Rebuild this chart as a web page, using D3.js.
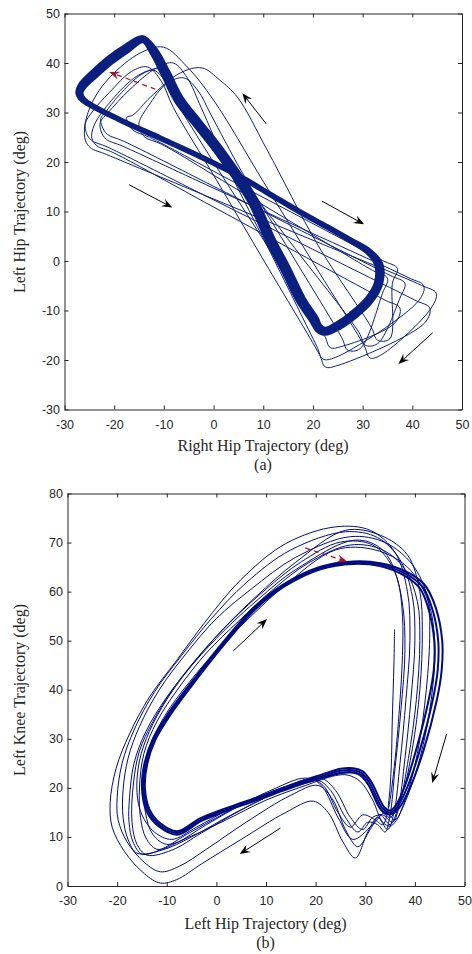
<!DOCTYPE html>
<html>
<head>
<meta charset="utf-8">
<script src="https://cdn.jsdelivr.net/npm/d3@7"></script>
<style>
  body { margin: 0; background: #fff; }
  svg { display: block; }
  .axis text { font-family: "Liberation Sans", Arial, sans-serif; font-size: 12.5px; fill: #262626; }
  .axis path, .axis line { stroke: #262626; stroke-width: 1; }
  .lbl { font-family: "Liberation Serif", "Times New Roman", serif; font-size: 16px; fill: #262626; }
</style>
</head>
<body>
<script>
// ---------- shared tick values ----------
const hipTicks = [-30, -20, -10, 0, 10, 20, 30, 40, 50];
const kneeTicks = [0, 10, 20, 30, 40, 50, 60, 70, 80];

// ---------- (a) right hip vs left hip, degrees ----------
// converged gait cycle, drawn as a bundle of three neighbouring cycles
const hipLimitA = [[-27.0,34.0],[-26.3,32.6],[-19,28.6],[-10.7,24.8],[-2.5,21.0],[5.4,17.0],[11,13.7],[17.4,9.9],[23,6.8],[27.5,4.2],[31.2,1.9],[33.2,-0.6],[33.2,-4.5],[31.2,-8.0],[28,-11],[25.2,-13],[22.5,-14.2],[21.2,-13.6],[20.2,-11.8],[17.6,-7.9],[14.5,-1.6],[11.4,4.3],[7.8,12.3],[1.0,22.4],[-3.0,27.5],[-6.9,32.5],[-9.6,37.8],[-12.0,42.3],[-14.2,44.8],[-17.4,43.0],[-20.8,40.6],[-24.2,37.6],[-26.4,35.4]];
const hipLimitB = [[-26.58,34.0],[-26.02,32.71],[-18.92,28.75],[-10.62,24.95],[-2.42,21.15],[5.48,17.15],[11.08,13.85],[17.48,10.05],[23.08,6.95],[27.6,4.38],[31.48,2.11],[33.76,-0.6],[33.72,-4.68],[31.6,-8.4],[28.4,-11.4],[25.48,-13.46],[22.5,-14.72],[20.85,-14.02],[19.64,-12.08],[17.0,-8.18],[13.87,-1.88],[10.77,4.02],[7.17,12.02],[0.4,22.09],[-3.56,27.15],[-7.46,32.15],[-10.16,37.49],[-12.39,41.88],[-14.2,44.38],[-17.02,42.55],[-20.38,40.15],[-23.75,37.22],[-25.95,35.16]];
const hipLimitC = [[-27.42,34.0],[-26.58,32.5],[-19.08,28.45],[-10.78,24.65],[-2.58,20.85],[5.32,16.85],[10.92,13.55],[17.32,9.75],[22.92,6.65],[27.4,4.02],[30.92,1.69],[32.64,-0.6],[32.68,-4.32],[30.8,-7.6],[27.6,-10.6],[24.92,-12.54],[22.5,-13.68],[21.55,-13.18],[20.76,-11.52],[18.2,-7.62],[15.13,-1.32],[12.03,4.58],[8.43,12.58],[1.6,22.72],[-2.44,27.85],[-6.34,32.85],[-9.04,38.12],[-11.62,42.72],[-14.2,45.22],[-17.79,43.46],[-21.22,41.06],[-24.66,37.99],[-26.86,35.65]];

// early cycles before the gait settles
const hipCycle1 = [[-25.8,24.4],[-24.8,22.9],[-21.5,21.5],[-0.4,12.7],[20.7,3.9],[41.8,-4.9],[44.8,-6.5],[43.8,-9.5],[34,-18.8],[31.5,-19.6],[30.3,-17.1],[20.2,-0.6],[10.1,15.9],[0,32.5],[-5.3,39.2],[-10.1,43.2],[-14.8,42],[-20.8,37.2],[-24.2,32.5],[-25.9,27.5]];
const hipCycle2 = [[-25.6,25.9],[-24.6,24.4],[-21.3,23.0],[-0.7,12.7],[19.9,2.4],[40.5,-7.9],[43.5,-9.5],[42.5,-12.5],[25,-21.1],[22.5,-21.4],[21.3,-18.9],[10.4,-0.4],[0.5,16.5],[-8.1,31],[-10.5,36.3],[-13.3,39.2],[-16.5,38.3],[-21,34],[-24.3,30.3],[-25.8,27.8]];
const hipCycle3 = [[-22.6,26.1],[-21.6,24.6],[-18.3,23.2],[0.9,14.3],[20.1,5.5],[39.3,-3.4],[42.3,-5.0],[41.3,-8.0],[24.5,-19.5],[22.0,-19.8],[20.8,-17.3],[11.8,1.0],[2.7,19.2],[-2.5,31],[-5.3,37],[-8.1,40.0],[-11.5,39],[-17,34.5],[-21.2,30],[-22.8,28]];
const hipCycle4 = [[-22.4,27.1],[-21.4,25.6],[-18.1,24.2],[-0.2,15.2],[17.7,6.1],[35.5,-2.9],[38.5,-4.5],[37.5,-7.5],[33,-16.7],[30.5,-17.0],[29.3,-14.5],[16.5,2.4],[3.6,19.4],[-5,31],[-8.2,36],[-11.0,38.8],[-14.5,37.7],[-19,33.5],[-21.8,30],[-22.7,28.8]];
const hipCycle5 = [[-17.2,27.9],[-16.2,26.4],[-12.9,25.0],[2.7,16.7],[18.4,8.4],[34.0,0.1],[37.0,-1.5],[36.0,-4.5],[35.5,-15.7],[33.0,-16.0],[31.8,-13.5],[21.0,3.2],[10.8,22.4],[4.8,33.1],[1.3,36.5],[-2.3,39.0],[-6.7,38],[-12.7,33.1],[-16.2,29.5],[-17.5,29.0]];
const hipCycle6 = [[-14.8,26.5],[-13.8,25.0],[-10.5,23.6],[3.7,15.1],[17.8,6.6],[32.0,-1.9],[35.0,-3.5],[34.0,-6.5],[29.5,-17.7],[27.0,-18.0],[25.8,-15.5],[15.8,1.2],[5.8,17.8],[-0.5,29.5],[-3.2,34.5],[-6.0,37.0],[-9.5,35.8],[-13,31.5],[-15,28]];
const hipCycle7 = [[-24.5,24.8],[-23.5,23.3],[-20.2,21.9],[-2.0,12.0],[16.3,2.0],[34.5,-7.9],[37.5,-9.5],[36.5,-12.5],[26,-17.2],[23.5,-17.5],[22.3,-15.0],[11.5,2.0],[0.6,19.0],[-6.8,31],[-9.5,36],[-12.0,38.5],[-15.5,37.3],[-20.5,32.5],[-24,27.5]];

// direction markers [x0, y0, x1, y1] in degrees
const hipArrows = [[-17,15.4,-8.3,10.8],[21.8,12.1,30.3,7.4],[10.6,27.7,5.8,33.9],[44.1,-14.5,37.2,-20.8]];
const hipDashedArrow = [-11.7,34.7,-21,38.2];

// ---------- (b) left hip vs left knee, degrees ----------
const kneeLimitA = [[-7.9,10.8],[-11.5,12.5],[-13.8,15.5],[-14.7,20],[-14.2,25],[-12.5,30],[-9.5,35],[-4,42.5],[1.5,49.5],[7.4,56.3],[13.5,61.2],[20.9,64.8],[27.6,65.9],[33,65.5],[38,63.7],[41.5,61.0],[43.5,56.5],[44.7,50],[44.6,44],[43.6,37.9],[41.0,27.7],[38.5,20.2],[36.5,16.2],[35.0,15.0],[33.5,15.8],[31,20.8],[29.3,23.0],[27.6,23.6],[25,23.5],[21,22.3],[16.9,21],[10,18.4],[3.4,16.1],[-3.2,13.5]];
const kneeLimitB = [[-7.9,10.45],[-11.71,12.22],[-14.1,15.33],[-15.0,20],[-14.48,25.05],[-12.75,30.12],[-9.72,35.15],[-4.2,42.65],[1.32,49.66],[7.24,56.48],[13.38,61.4],[20.83,65.03],[27.6,66.15],[33.05,65.8],[38.2,64.1],[41.95,61.4],[44.2,56.75],[45.5,50.05],[45.4,44],[44.4,37.8],[41.7,27.5],[39.0,20.0],[36.8,15.9],[35.0,14.6],[33.2,15.5],[30.65,20.6],[29.1,22.65],[27.6,23.2],[25,23.1],[21.1,22.0],[16.98,20.75],[10.08,18.16],[3.48,15.86],[-3.1,13.22]];
const kneeLimitC = [[-7.9,11.15],[-11.29,12.78],[-13.5,15.67],[-14.4,20],[-13.92,24.95],[-12.25,29.88],[-9.28,34.85],[-3.8,42.35],[1.68,49.34],[7.56,56.12],[13.62,61.0],[20.97,64.57],[27.6,65.65],[32.95,65.2],[37.8,63.3],[41.05,60.6],[42.8,56.25],[43.9,49.95],[43.8,44],[42.8,38.0],[40.3,27.9],[38.0,20.4],[36.2,16.5],[35.0,15.4],[33.8,16.1],[31.35,21.0],[29.5,23.35],[27.6,24.0],[25,23.9],[20.9,22.6],[16.82,21.25],[9.92,18.64],[3.32,16.34],[-3.3,13.78]];

const kneeCycle1 = [[-11.3,0.6],[-14.5,2.5],[-18.5,7],[-21,12],[-21.4,17],[-20.2,24],[-17.5,31],[-13.5,38.5],[-8,46],[-2.5,53.5],[5,62.5],[14,69.8],[24,73.2],[31,72.5],[36,68],[38.5,60],[39,50],[38.2,38],[37,25],[35.8,15],[34.5,11.5],[32.5,14],[30.5,11],[28,5.7],[25.5,9],[22.5,15],[19.5,17.3],[14,15],[5,9.5],[-3,4.5],[-8,1.3]];
const kneeCycle2 = [[-11.3,2.9],[-14.5,4.8],[-18,9],[-19.8,13.5],[-20,18],[-19,25],[-16.5,32],[-12.5,39.5],[-7,47],[-1,54.5],[6,61.8],[15,68.5],[26,72.2],[32.5,71],[37,66.5],[39.5,59],[40,50],[39.2,38],[38,26],[36.6,16],[35,12.5],[33,14.5],[31,11.5],[28.5,8],[26,11.5],[23.5,17.5],[20.5,20.5],[15,18.5],[6,13],[-2,7.5],[-7.5,4]];
const kneeCycle3 = [[-16,6.7],[-17.8,9.5],[-18.8,14],[-18.8,19.6],[-17.8,26],[-15.5,32.5],[-11.5,40],[-6,47.5],[0,54.5],[7,60.5],[16,67],[27,71.2],[34,70],[39.5,65.5],[42.5,59],[43,52],[42.3,40],[40.5,27],[38,17.5],[36,13.5],[34,15],[31.5,12.5],[27.5,9.5],[24.5,14],[21.5,20],[19,21.8],[12,19],[3,14.5],[-5,10],[-11,7.3]];
const kneeCycle4 = [[-14,6.3],[-16,8.5],[-17,13],[-16.7,21],[-15.5,27.5],[-12.8,33.5],[-8.5,40.5],[-3,47.5],[3,54],[10,60.5],[17,66],[25,70.1],[31.5,69.5],[35.5,65],[37.5,57.5],[38,48],[37.2,36],[36,24],[35,14.5],[34,11],[32.5,12.5],[30.5,13],[28.5,11],[26,14],[23,19.5],[20.5,21.5],[14,19.8],[5,15.5],[-3,10.8],[-9,7.3]];
const kneeCycle5 = [[-12,7.5],[-14.2,9.8],[-15.3,14],[-15.5,20],[-14.6,27],[-12,33.5],[-7.5,40.5],[-2,47.5],[4.5,54],[11.5,60.5],[18.5,65.8],[27,69.5],[33.5,68.5],[38,64.5],[40.5,58],[41,50],[40.3,38],[38.7,26],[37,17],[35.5,13],[33.5,14.5],[31.5,14],[29.5,11.5],[27,14],[24,19.5],[21,22],[14,20.3],[6,17],[-2,12.5],[-8,8.8]];
const kneeCycle6 = [[-10,8.5],[-12.8,10.5],[-14.3,15],[-14.5,21],[-13.5,28],[-10.5,34.5],[-5.5,41.5],[0.5,48.5],[7,55],[13.5,61],[24,68.5],[32,68.5],[38.5,65],[42.5,58.5],[44,50],[43.3,38],[41,26],[38,17],[36,13],[35,12.2],[33.5,13],[31.5,17.5],[29,21.3],[26.5,22.6],[24,22.5],[18,20.5],[10,17.5],[2,13.5],[-5,10.2]];
const kneeCycle7 = [[-9,9.5],[-12.5,11],[-15,14.5],[-16,19],[-15.5,25.5],[-13.5,31.5],[-10,38],[-5,45],[1,52],[8,59],[16,66],[26,72.5],[33,71.5],[38.5,67.5],[41,60],[41.5,52],[41,40],[39.5,28],[37.5,19],[35,14],[33.2,15.5],[31,20],[28.5,22.7],[26,23],[20,21.5],[12,19],[3,15.8],[-4,12]];
const kneeCycle8 = [[-15,6.5],[-16.8,9],[-17.6,13],[-17.5,18],[-16.6,25],[-14.2,31.5],[-10,38.5],[-4.5,45.5],[1.5,52],[8.5,58.5],[16,64.5],[28,70.5],[33.5,68.5],[36.5,62.5],[37.5,55],[37.5,47],[36.8,35],[35.7,23],[34.5,15],[33.5,12.5],[32,13.5],[29.5,14.5],[27,12],[24.5,15],[21.5,20.5],[18,22],[11,19.5],[2,15],[-6,10.5],[-11.5,7.3]];
// first stretch of the recording, before the first full cycle
const kneeStart = [[35.9,52.3],[35.8,46],[35.6,39],[35.4,32],[35.3,26],[35.0,20],[34.6,16]];

const kneeArrows = [[3.4,47.9,10.2,54.4],[46.4,31,43.5,21],[12.9,11.8,4.7,6.5]];
const kneeDashedArrow = [17.9,68.9,26.4,66.1];

// ---------- drawing ----------
const svg = d3.select("body").append("svg").attr("width", 472).attr("height", 954);
const fmt = d => String(d);

function arrow(g, x, y, a, color, dashed) {
  const x0 = x(a[0]), y0 = y(a[1]), x1 = x(a[2]), y1 = y(a[3]);
  const ang = Math.atan2(y1 - y0, x1 - x0);
  const L = 10.5, hw = 4.2, notch = 0.35 * L;
  const c = Math.cos(ang), s = Math.sin(ang);
  const bx = x1 - c * (L - notch), by = y1 - s * (L - notch);
  g.append("line")
    .attr("x1", x0).attr("y1", y0).attr("x2", bx).attr("y2", by)
    .attr("stroke", color).attr("stroke-width", dashed ? 1.3 : 1)
    .attr("stroke-dasharray", dashed ? "5,4" : null);
  const p = [
    [x1, y1],
    [x1 - c * L - s * hw, y1 - s * L + c * hw],
    [bx, by],
    [x1 - c * L + s * hw, y1 - s * L - c * hw]
  ];
  g.append("path").attr("d", "M" + p.map(q => q.join(",")).join("L") + "Z")
    .attr("fill", color).attr("stroke", "none");
}

function panel(o) {
  const x = d3.scaleLinear().domain(o.xDomain).range([o.left, o.right]);
  const y = d3.scaleLinear().domain(o.yDomain).range([o.bottom, o.top]);
  const g = svg.append("g");

  // box with inward ticks on all four sides
  g.append("g").attr("class", "axis").attr("transform", `translate(0,${o.bottom})`)
    .call(d3.axisBottom(x).tickValues(o.xTicks).tickSizeInner(-4).tickSizeOuter(0).tickPadding(10.5).tickFormat(fmt));
  g.append("g").attr("class", "axis").attr("transform", `translate(0,${o.top})`)
    .call(d3.axisTop(x).tickValues(o.xTicks).tickSizeInner(-4).tickSizeOuter(0).tickFormat(""));
  g.append("g").attr("class", "axis").attr("transform", `translate(${o.left},0)`)
    .call(d3.axisLeft(y).tickValues(o.yTicks).tickSizeInner(-4).tickSizeOuter(0).tickPadding(4.5).tickFormat(fmt));
  g.append("g").attr("class", "axis").attr("transform", `translate(${o.right},0)`)
    .call(d3.axisRight(y).tickValues(o.yTicks).tickSizeInner(-4).tickSizeOuter(0).tickFormat(""));
  g.selectAll(".axis .domain").attr("stroke", "#262626");

  const loop = d3.line().x(d => x(d[0])).y(d => y(d[1])).curve(d3.curveCatmullRomClosed.alpha(0.5));
  const open = d3.line().x(d => x(d[0])).y(d => y(d[1])).curve(d3.curveCatmullRom.alpha(0.5));

  g.selectAll(".cyc").data(o.cycles).join("path")
    .attr("d", loop).attr("fill", "none").attr("stroke", o.color).attr("stroke-width", 1);
  (o.openPaths || []).forEach(p => g.append("path").attr("d", open(p))
    .attr("fill", "none").attr("stroke", o.color).attr("stroke-width", 1));
  g.selectAll(".lim").data(o.limit).join("path")
    .attr("d", loop).attr("fill", "none").attr("stroke", o.color)
    .attr("stroke-width", o.limitWidth).attr("stroke-linejoin", "round");

  o.arrows.forEach(a => arrow(g, x, y, a, "#000", false));
  arrow(g, x, y, o.dashed, "#A2142F", true);

  g.append("text").attr("class", "lbl").attr("x", o.xLabelPos[0]).attr("y", o.xLabelPos[1])
    .attr("text-anchor", "middle").text(o.xLabel);
  g.append("text").attr("class", "lbl").attr("x", o.xLabelPos[0]).attr("y", o.xLabelPos[1] + 19)
    .attr("text-anchor", "middle").text(o.tag);
  g.append("text").attr("class", "lbl")
    .attr("transform", `translate(${o.yLabelPos[0]},${o.yLabelPos[1]}) rotate(-90)`)
    .attr("text-anchor", "middle").text(o.yLabel);
}

panel({
  left: 64.5, right: 462, top: 13.5, bottom: 409.5,
  xDomain: [-30, 50], yDomain: [-30, 50], xTicks: hipTicks, yTicks: hipTicks,
  color: "#0b1f7e",
  cycles: [hipCycle1, hipCycle2, hipCycle3, hipCycle4, hipCycle5, hipCycle6, hipCycle7],
  limit: [hipLimitB, hipLimitC, hipLimitA], limitWidth: 4,
  arrows: hipArrows, dashed: hipDashedArrow,
  xLabel: "Right Hip Trajectory (deg)", tag: "(a)", xLabelPos: [263, 451],
  yLabel: "Left Hip Trajectory (deg)", yLabelPos: [25, 212]
});

panel({
  left: 67.5, right: 464.5, top: 493.5, bottom: 886,
  xDomain: [-30, 50], yDomain: [0, 80], xTicks: hipTicks, yTicks: kneeTicks,
  color: "#000c80",
  cycles: [kneeCycle1, kneeCycle2, kneeCycle3, kneeCycle4, kneeCycle5, kneeCycle6, kneeCycle7, kneeCycle8],
  openPaths: [kneeStart],
  limit: [kneeLimitB, kneeLimitC, kneeLimitA], limitWidth: 2,
  arrows: kneeArrows, dashed: kneeDashedArrow,
  xLabel: "Left Hip Trajectory (deg)", tag: "(b)", xLabelPos: [265.5, 929],
  yLabel: "Left Knee Trajectory (deg)", yLabelPos: [25, 690]
});
</script>
</body>
</html>
